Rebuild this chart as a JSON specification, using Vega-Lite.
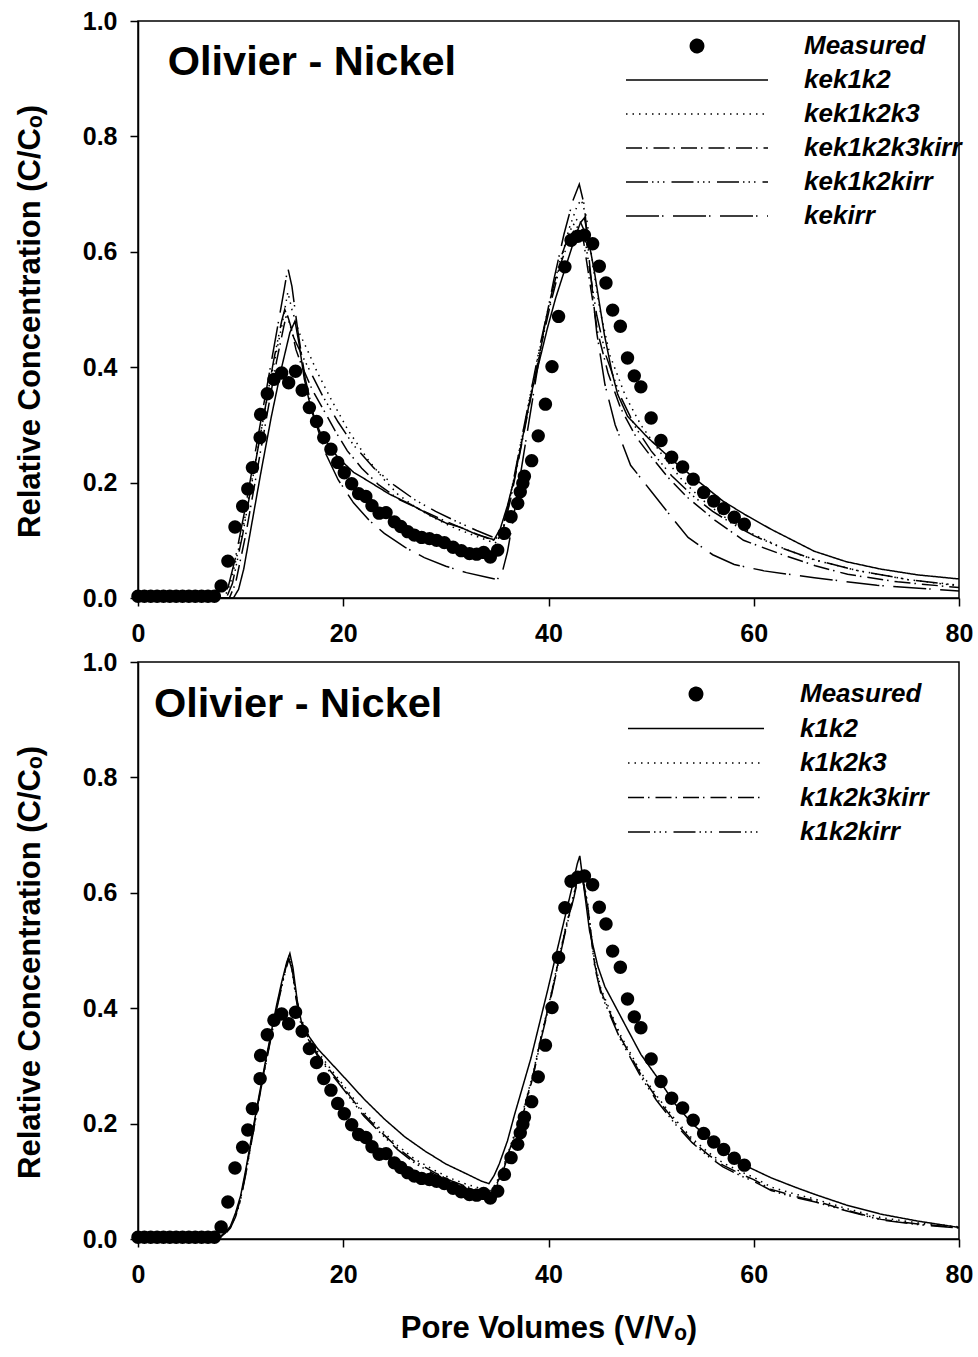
{
  "$schema": "https://vega.github.io/schema/vega-lite/v6.json",
  "padding": {"left": 13, "top": 8, "right": 12, "bottom": 10},
  "background": "white",
  "config": {
    "font": "Liberation Sans",
    "view": {"stroke": "black", "strokeWidth": 1.5},
    "axis": {
      "labelFont": "Liberation Sans", "labelFontSize": 25, "labelFontWeight": "bold", "labelColor": "black",
      "titleFont": "Liberation Sans", "titleFontSize": 31, "titleFontWeight": "bold", "titleColor": "black",
      "domainColor": "black", "domainWidth": 1.5, "tickColor": "black", "tickWidth": 1.5, "tickSize": 8,
      "grid": false, "labelFlush": false, "labelOverlap": false
    },
    "axisX": {"labelPadding": 15, "titlePadding": 26},
    "axisY": {"labelPadding": 13, "titlePadding": 36, "titleY": 300}
  },
  "resolve": {"scale": {"shape": "independent", "strokeDash": "independent"}, "legend": {"shape": "independent", "strokeDash": "independent"}},
  "datasets": {
    "measured": [
      {"series":"Measured","x":0,"y":0.003},{"series":"Measured","x":0.62,"y":0.003},{"series":"Measured","x":1.24,"y":0.003},{"series":"Measured","x":1.86,"y":0.003},{"series":"Measured","x":2.48,"y":0.003},{"series":"Measured","x":3.1,"y":0.003},{"series":"Measured","x":3.72,"y":0.003},{"series":"Measured","x":4.34,"y":0.003},{"series":"Measured","x":4.96,"y":0.003},{"series":"Measured","x":5.58,"y":0.003},{"series":"Measured","x":6.2,"y":0.003},{"series":"Measured","x":6.82,"y":0.003},{"series":"Measured","x":7.44,"y":0.003},
      {"series":"Measured","x":8.1,"y":0.021},{"series":"Measured","x":8.76,"y":0.064},{"series":"Measured","x":9.45,"y":0.123},{"series":"Measured","x":10.2,"y":0.159},{"series":"Measured","x":10.7,"y":0.189},{"series":"Measured","x":11.15,"y":0.226},{"series":"Measured","x":11.9,"y":0.278},{"series":"Measured","x":11.95,"y":0.318},{"series":"Measured","x":12.6,"y":0.354},{"series":"Measured","x":13.25,"y":0.379},{"series":"Measured","x":14.0,"y":0.39},{"series":"Measured","x":14.68,"y":0.373},{"series":"Measured","x":15.35,"y":0.393},{"series":"Measured","x":16.0,"y":0.36},{"series":"Measured","x":16.7,"y":0.33},{"series":"Measured","x":17.4,"y":0.306},{"series":"Measured","x":18.1,"y":0.278},{"series":"Measured","x":18.8,"y":0.258},{"series":"Measured","x":19.46,"y":0.235},{"series":"Measured","x":20.1,"y":0.217},{"series":"Measured","x":20.82,"y":0.198},{"series":"Measured","x":21.5,"y":0.181},{"series":"Measured","x":22.2,"y":0.176},{"series":"Measured","x":22.8,"y":0.16},{"series":"Measured","x":23.5,"y":0.147},{"series":"Measured","x":24.17,"y":0.148},{"series":"Measured","x":24.98,"y":0.132},{"series":"Measured","x":25.6,"y":0.124},{"series":"Measured","x":26.28,"y":0.115},{"series":"Measured","x":26.93,"y":0.109},{"series":"Measured","x":27.64,"y":0.105},{"series":"Measured","x":28.4,"y":0.103},{"series":"Measured","x":29.1,"y":0.1},{"series":"Measured","x":29.85,"y":0.096},{"series":"Measured","x":30.7,"y":0.088},{"series":"Measured","x":31.5,"y":0.082},{"series":"Measured","x":32.3,"y":0.077},{"series":"Measured","x":33.0,"y":0.076},{"series":"Measured","x":33.68,"y":0.079},{"series":"Measured","x":34.33,"y":0.071},{"series":"Measured","x":35.05,"y":0.083},{"series":"Measured","x":35.7,"y":0.112},{"series":"Measured","x":36.35,"y":0.141},{"series":"Measured","x":37.0,"y":0.164},{"series":"Measured","x":37.25,"y":0.184},{"series":"Measured","x":37.5,"y":0.199},{"series":"Measured","x":37.65,"y":0.211},{"series":"Measured","x":38.36,"y":0.238},{"series":"Measured","x":39.0,"y":0.281},{"series":"Measured","x":39.7,"y":0.336},{"series":"Measured","x":40.34,"y":0.401},{"series":"Measured","x":40.98,"y":0.488},{"series":"Measured","x":41.6,"y":0.574},{"series":"Measured","x":42.2,"y":0.62},{"series":"Measured","x":42.85,"y":0.627},{"series":"Measured","x":43.5,"y":0.629},{"series":"Measured","x":44.3,"y":0.614},{"series":"Measured","x":44.95,"y":0.575},{"series":"Measured","x":45.6,"y":0.546},{"series":"Measured","x":46.25,"y":0.499},{"series":"Measured","x":47.0,"y":0.471},{"series":"Measured","x":47.7,"y":0.416},{"series":"Measured","x":48.36,"y":0.385},{"series":"Measured","x":49.0,"y":0.366},{"series":"Measured","x":50.0,"y":0.312},{"series":"Measured","x":50.96,"y":0.273},{"series":"Measured","x":52.0,"y":0.244},{"series":"Measured","x":53.07,"y":0.227},{"series":"Measured","x":54.1,"y":0.206},{"series":"Measured","x":55.12,"y":0.183},{"series":"Measured","x":56.1,"y":0.168},{"series":"Measured","x":57.07,"y":0.155},{"series":"Measured","x":58.1,"y":0.14},{"series":"Measured","x":59.08,"y":0.128}
    ],
    "top": [
      {"series":"kek1k2","x":0,"y":0},{"series":"kek1k2","x":9.3,"y":0},{"series":"kek1k2","x":9.8,"y":0.015},{"series":"kek1k2","x":10.3,"y":0.05},{"series":"kek1k2","x":11,"y":0.12},{"series":"kek1k2","x":12,"y":0.22},{"series":"kek1k2","x":13,"y":0.315},{"series":"kek1k2","x":14,"y":0.4},{"series":"kek1k2","x":14.8,"y":0.46},{"series":"kek1k2","x":15.3,"y":0.48},{"series":"kek1k2","x":15.7,"y":0.44},{"series":"kek1k2","x":16.2,"y":0.38},{"series":"kek1k2","x":16.9,"y":0.324},{"series":"kek1k2","x":17.8,"y":0.285},{"series":"kek1k2","x":19.5,"y":0.243},{"series":"kek1k2","x":21,"y":0.218},{"series":"kek1k2","x":22.4,"y":0.203},{"series":"kek1k2","x":24.5,"y":0.18},{"series":"kek1k2","x":26.6,"y":0.162},{"series":"kek1k2","x":28.6,"y":0.142},{"series":"kek1k2","x":30,"y":0.13},{"series":"kek1k2","x":31.5,"y":0.122},{"series":"kek1k2","x":33,"y":0.11},{"series":"kek1k2","x":34.7,"y":0.101},{"series":"kek1k2","x":35.3,"y":0.12},{"series":"kek1k2","x":36,"y":0.16},{"series":"kek1k2","x":36.7,"y":0.209},{"series":"kek1k2","x":37.5,"y":0.28},{"series":"kek1k2","x":38.3,"y":0.353},{"series":"kek1k2","x":39.1,"y":0.41},{"series":"kek1k2","x":39.9,"y":0.468},{"series":"kek1k2","x":40.7,"y":0.52},{"series":"kek1k2","x":41.55,"y":0.567},{"series":"kek1k2","x":42.5,"y":0.62},{"series":"kek1k2","x":43.1,"y":0.65},{"series":"kek1k2","x":43.5,"y":0.659},{"series":"kek1k2","x":43.9,"y":0.62},{"series":"kek1k2","x":44.46,"y":0.567},{"series":"kek1k2","x":45.44,"y":0.457},{"series":"kek1k2","x":46.2,"y":0.39},{"series":"kek1k2","x":46.74,"y":0.353},{"series":"kek1k2","x":47.7,"y":0.315},{"series":"kek1k2","x":49.67,"y":0.278},{"series":"kek1k2","x":52,"y":0.24},{"series":"kek1k2","x":54.54,"y":0.203},{"series":"kek1k2","x":57,"y":0.168},{"series":"kek1k2","x":59.1,"y":0.145},{"series":"kek1k2","x":61.7,"y":0.119},{"series":"kek1k2","x":65.9,"y":0.081},{"series":"kek1k2","x":69,"y":0.063},{"series":"kek1k2","x":72.4,"y":0.05},{"series":"kek1k2","x":76,"y":0.04},{"series":"kek1k2","x":80,"y":0.033},
      {"series":"kek1k2k3","x":0,"y":0},{"series":"kek1k2k3","x":8.4,"y":0},{"series":"kek1k2k3","x":9,"y":0.025},{"series":"kek1k2k3","x":10,"y":0.1},{"series":"kek1k2k3","x":11,"y":0.195},{"series":"kek1k2k3","x":12,"y":0.29},{"series":"kek1k2k3","x":13,"y":0.385},{"series":"kek1k2k3","x":14,"y":0.47},{"series":"kek1k2k3","x":14.6,"y":0.53},{"series":"kek1k2k3","x":15,"y":0.5},{"series":"kek1k2k3","x":15.7,"y":0.46},{"series":"kek1k2k3","x":16.5,"y":0.43},{"series":"kek1k2k3","x":17.5,"y":0.39},{"series":"kek1k2k3","x":18.8,"y":0.345},{"series":"kek1k2k3","x":20.5,"y":0.29},{"series":"kek1k2k3","x":22.4,"y":0.24},{"series":"kek1k2k3","x":24,"y":0.205},{"series":"kek1k2k3","x":25.3,"y":0.18},{"series":"kek1k2k3","x":27,"y":0.158},{"series":"kek1k2k3","x":28.5,"y":0.142},{"series":"kek1k2k3","x":30.5,"y":0.124},{"series":"kek1k2k3","x":32.5,"y":0.11},{"series":"kek1k2k3","x":34.8,"y":0.095},{"series":"kek1k2k3","x":35.4,"y":0.11},{"series":"kek1k2k3","x":36,"y":0.15},{"series":"kek1k2k3","x":37,"y":0.24},{"series":"kek1k2k3","x":38,"y":0.33},{"series":"kek1k2k3","x":39,"y":0.42},{"series":"kek1k2k3","x":40,"y":0.5},{"series":"kek1k2k3","x":41,"y":0.57},{"series":"kek1k2k3","x":42,"y":0.64},{"series":"kek1k2k3","x":42.8,"y":0.68},{"series":"kek1k2k3","x":43.2,"y":0.69},{"series":"kek1k2k3","x":43.7,"y":0.66},{"series":"kek1k2k3","x":44.3,"y":0.58},{"series":"kek1k2k3","x":45,"y":0.5},{"series":"kek1k2k3","x":46,"y":0.42},{"series":"kek1k2k3","x":47.5,"y":0.35},{"series":"kek1k2k3","x":49,"y":0.3},{"series":"kek1k2k3","x":51,"y":0.25},{"series":"kek1k2k3","x":53,"y":0.205},{"series":"kek1k2k3","x":55,"y":0.17},{"series":"kek1k2k3","x":57,"y":0.142},{"series":"kek1k2k3","x":60,"y":0.11},{"series":"kek1k2k3","x":63,"y":0.085},{"series":"kek1k2k3","x":65.9,"y":0.066},{"series":"kek1k2k3","x":70,"y":0.048},{"series":"kek1k2k3","x":75,"y":0.032},{"series":"kek1k2k3","x":80,"y":0.021},
      {"series":"kek1k2k3kirr","x":0,"y":0},{"series":"kek1k2k3kirr","x":8.9,"y":0},{"series":"kek1k2k3kirr","x":9.5,"y":0.025},{"series":"kek1k2k3kirr","x":10.5,"y":0.11},{"series":"kek1k2k3kirr","x":11.5,"y":0.21},{"series":"kek1k2k3kirr","x":12.5,"y":0.31},{"series":"kek1k2k3kirr","x":13.5,"y":0.41},{"series":"kek1k2k3kirr","x":14.2,"y":0.47},{"series":"kek1k2k3kirr","x":14.5,"y":0.494},{"series":"kek1k2k3kirr","x":14.9,"y":0.47},{"series":"kek1k2k3kirr","x":15.4,"y":0.43},{"series":"kek1k2k3kirr","x":15.9,"y":0.405},{"series":"kek1k2k3kirr","x":17,"y":0.36},{"series":"kek1k2k3kirr","x":18.15,"y":0.324},{"series":"kek1k2k3kirr","x":19.2,"y":0.29},{"series":"kek1k2k3kirr","x":20.4,"y":0.255},{"series":"kek1k2k3kirr","x":21.8,"y":0.225},{"series":"kek1k2k3kirr","x":23.4,"y":0.197},{"series":"kek1k2k3kirr","x":25.5,"y":0.17},{"series":"kek1k2k3kirr","x":27.9,"y":0.15},{"series":"kek1k2k3kirr","x":30,"y":0.133},{"series":"kek1k2k3kirr","x":32,"y":0.118},{"series":"kek1k2k3kirr","x":34,"y":0.104},{"series":"kek1k2k3kirr","x":35,"y":0.098},{"series":"kek1k2k3kirr","x":35.6,"y":0.12},{"series":"kek1k2k3kirr","x":36.3,"y":0.17},{"series":"kek1k2k3kirr","x":37.2,"y":0.25},{"series":"kek1k2k3kirr","x":38.2,"y":0.34},{"series":"kek1k2k3kirr","x":39.2,"y":0.43},{"series":"kek1k2k3kirr","x":40.2,"y":0.51},{"series":"kek1k2k3kirr","x":41.2,"y":0.58},{"series":"kek1k2k3kirr","x":42.2,"y":0.63},{"series":"kek1k2k3kirr","x":42.9,"y":0.645},{"series":"kek1k2k3kirr","x":43.4,"y":0.62},{"series":"kek1k2k3kirr","x":44,"y":0.55},{"series":"kek1k2k3kirr","x":44.8,"y":0.46},{"series":"kek1k2k3kirr","x":45.8,"y":0.39},{"series":"kek1k2k3kirr","x":47,"y":0.33},{"series":"kek1k2k3kirr","x":48.5,"y":0.28},{"series":"kek1k2k3kirr","x":50,"y":0.245},{"series":"kek1k2k3kirr","x":51.6,"y":0.21},{"series":"kek1k2k3kirr","x":53.5,"y":0.175},{"series":"kek1k2k3kirr","x":56.2,"y":0.135},{"series":"kek1k2k3kirr","x":59,"y":0.1},{"series":"kek1k2k3kirr","x":62.65,"y":0.076},{"series":"kek1k2k3kirr","x":66,"y":0.056},{"series":"kek1k2k3kirr","x":69.15,"y":0.041},{"series":"kek1k2k3kirr","x":74,"y":0.028},{"series":"kek1k2k3kirr","x":80,"y":0.018},
      {"series":"kek1k2kirr","x":0,"y":0},{"series":"kek1k2kirr","x":8.6,"y":0},{"series":"kek1k2kirr","x":9.2,"y":0.025},{"series":"kek1k2kirr","x":10.2,"y":0.11},{"series":"kek1k2kirr","x":11.2,"y":0.21},{"series":"kek1k2kirr","x":12.2,"y":0.31},{"series":"kek1k2kirr","x":13.2,"y":0.41},{"series":"kek1k2kirr","x":14,"y":0.48},{"series":"kek1k2kirr","x":14.3,"y":0.5},{"series":"kek1k2kirr","x":14.7,"y":0.48},{"series":"kek1k2kirr","x":15.2,"y":0.45},{"series":"kek1k2kirr","x":16,"y":0.42},{"series":"kek1k2kirr","x":17,"y":0.385},{"series":"kek1k2kirr","x":18,"y":0.35},{"series":"kek1k2kirr","x":19.5,"y":0.305},{"series":"kek1k2kirr","x":21,"y":0.265},{"series":"kek1k2kirr","x":23,"y":0.225},{"series":"kek1k2kirr","x":25,"y":0.195},{"series":"kek1k2kirr","x":27,"y":0.17},{"series":"kek1k2kirr","x":29,"y":0.15},{"series":"kek1k2kirr","x":31,"y":0.133},{"series":"kek1k2kirr","x":33,"y":0.117},{"series":"kek1k2kirr","x":34.9,"y":0.103},{"series":"kek1k2kirr","x":35.5,"y":0.12},{"series":"kek1k2kirr","x":36.2,"y":0.17},{"series":"kek1k2kirr","x":37.2,"y":0.26},{"series":"kek1k2kirr","x":38.2,"y":0.35},{"series":"kek1k2kirr","x":39.2,"y":0.44},{"series":"kek1k2kirr","x":40.2,"y":0.52},{"series":"kek1k2kirr","x":41.2,"y":0.59},{"series":"kek1k2kirr","x":42.2,"y":0.64},{"series":"kek1k2kirr","x":42.9,"y":0.66},{"series":"kek1k2kirr","x":43.4,"y":0.64},{"series":"kek1k2kirr","x":44,"y":0.57},{"series":"kek1k2kirr","x":44.7,"y":0.49},{"series":"kek1k2kirr","x":45.6,"y":0.42},{"series":"kek1k2kirr","x":47,"y":0.35},{"series":"kek1k2kirr","x":48.5,"y":0.295},{"series":"kek1k2kirr","x":50,"y":0.255},{"series":"kek1k2kirr","x":52,"y":0.212},{"series":"kek1k2kirr","x":54,"y":0.178},{"series":"kek1k2kirr","x":56,"y":0.15},{"series":"kek1k2kirr","x":58,"y":0.128},{"series":"kek1k2kirr","x":60,"y":0.108},{"series":"kek1k2kirr","x":63,"y":0.085},{"series":"kek1k2kirr","x":66,"y":0.066},{"series":"kek1k2kirr","x":70,"y":0.048},{"series":"kek1k2kirr","x":75,"y":0.032},{"series":"kek1k2kirr","x":80,"y":0.022},
      {"series":"kekirr","x":0,"y":0},{"series":"kekirr","x":8.2,"y":0},{"series":"kekirr","x":8.8,"y":0.02},{"series":"kekirr","x":9.5,"y":0.07},{"series":"kekirr","x":10.5,"y":0.16},{"series":"kekirr","x":11.5,"y":0.26},{"series":"kekirr","x":12.5,"y":0.36},{"series":"kekirr","x":13.5,"y":0.46},{"series":"kekirr","x":14.2,"y":0.53},{"series":"kekirr","x":14.6,"y":0.572},{"series":"kekirr","x":15,"y":0.54},{"series":"kekirr","x":15.6,"y":0.46},{"series":"kekirr","x":16.3,"y":0.38},{"series":"kekirr","x":17.2,"y":0.31},{"series":"kekirr","x":18.3,"y":0.25},{"series":"kekirr","x":19.5,"y":0.205},{"series":"kekirr","x":21,"y":0.165},{"series":"kekirr","x":22.5,"y":0.135},{"series":"kekirr","x":24,"y":0.112},{"series":"kekirr","x":26,"y":0.088},{"series":"kekirr","x":27.9,"y":0.07},{"series":"kekirr","x":30,"y":0.055},{"series":"kekirr","x":32,"y":0.044},{"series":"kekirr","x":34,"y":0.036},{"series":"kekirr","x":35,"y":0.032},{"series":"kekirr","x":35.5,"y":0.045},{"series":"kekirr","x":36,"y":0.08},{"series":"kekirr","x":36.5,"y":0.13},{"series":"kekirr","x":37.5,"y":0.24},{"series":"kekirr","x":38.5,"y":0.35},{"series":"kekirr","x":39.5,"y":0.46},{"series":"kekirr","x":40.5,"y":0.55},{"series":"kekirr","x":41.5,"y":0.63},{"series":"kekirr","x":42.4,"y":0.69},{"series":"kekirr","x":43,"y":0.717},{"series":"kekirr","x":43.5,"y":0.68},{"series":"kekirr","x":44,"y":0.58},{"series":"kekirr","x":44.7,"y":0.46},{"series":"kekirr","x":45.5,"y":0.37},{"series":"kekirr","x":46.5,"y":0.3},{"series":"kekirr","x":48,"y":0.23},{"series":"kekirr","x":50,"y":0.185},{"series":"kekirr","x":52,"y":0.14},{"series":"kekirr","x":53.6,"y":0.105},{"series":"kekirr","x":56,"y":0.075},{"series":"kekirr","x":58.1,"y":0.058},{"series":"kekirr","x":61,"y":0.047},{"series":"kekirr","x":65.9,"y":0.035},{"series":"kekirr","x":72,"y":0.022},{"series":"kekirr","x":80,"y":0.012}
    ],
    "bottom": [
      {"series":"k1k2","x":0,"y":0},{"series":"k1k2","x":7.5,"y":0},{"series":"k1k2","x":8,"y":0.004},{"series":"k1k2","x":8.5,"y":0.012},{"series":"k1k2","x":9,"y":0.022},{"series":"k1k2","x":9.5,"y":0.045},{"series":"k1k2","x":10,"y":0.075},{"series":"k1k2","x":10.5,"y":0.12},{"series":"k1k2","x":11,"y":0.17},{"series":"k1k2","x":11.5,"y":0.22},{"series":"k1k2","x":12,"y":0.268},{"series":"k1k2","x":12.5,"y":0.315},{"series":"k1k2","x":13,"y":0.36},{"series":"k1k2","x":13.5,"y":0.405},{"series":"k1k2","x":14,"y":0.445},{"series":"k1k2","x":14.5,"y":0.48},{"series":"k1k2","x":14.8,"y":0.495},{"series":"k1k2","x":15.1,"y":0.47},{"series":"k1k2","x":15.5,"y":0.415},{"series":"k1k2","x":15.9,"y":0.378},{"series":"k1k2","x":16.5,"y":0.355},{"series":"k1k2","x":17.5,"y":0.33},{"series":"k1k2","x":18.8,"y":0.305},{"series":"k1k2","x":20,"y":0.282},{"series":"k1k2","x":22,"y":0.243},{"series":"k1k2","x":24,"y":0.208},{"series":"k1k2","x":26,"y":0.177},{"series":"k1k2","x":28,"y":0.152},{"series":"k1k2","x":30,"y":0.13},{"series":"k1k2","x":32,"y":0.113},{"series":"k1k2","x":33.5,"y":0.1},{"series":"k1k2","x":34.2,"y":0.096},{"series":"k1k2","x":34.7,"y":0.11},{"series":"k1k2","x":35.2,"y":0.13},{"series":"k1k2","x":36,"y":0.17},{"series":"k1k2","x":36.7,"y":0.216},{"series":"k1k2","x":37.5,"y":0.265},{"series":"k1k2","x":38.3,"y":0.314},{"series":"k1k2","x":39.1,"y":0.372},{"series":"k1k2","x":39.9,"y":0.43},{"series":"k1k2","x":40.7,"y":0.49},{"series":"k1k2","x":41.5,"y":0.55},{"series":"k1k2","x":42.3,"y":0.61},{"series":"k1k2","x":42.8,"y":0.65},{"series":"k1k2","x":43.05,"y":0.664},{"series":"k1k2","x":43.3,"y":0.63},{"series":"k1k2","x":44,"y":0.534},{"series":"k1k2","x":44.8,"y":0.473},{"series":"k1k2","x":45.5,"y":0.437},{"series":"k1k2","x":46.4,"y":0.407},{"series":"k1k2","x":47.5,"y":0.37},{"series":"k1k2","x":49,"y":0.32},{"series":"k1k2","x":50.6,"y":0.28},{"series":"k1k2","x":52.3,"y":0.235},{"series":"k1k2","x":54,"y":0.2},{"series":"k1k2","x":55.2,"y":0.181},{"series":"k1k2","x":57,"y":0.153},{"series":"k1k2","x":59.2,"y":0.127},{"series":"k1k2","x":61.7,"y":0.106},{"series":"k1k2","x":64,"y":0.09},{"series":"k1k2","x":66,"y":0.077},{"series":"k1k2","x":69,"y":0.059},{"series":"k1k2","x":72.4,"y":0.043},{"series":"k1k2","x":76,"y":0.031},{"series":"k1k2","x":80,"y":0.02},
      {"series":"k1k2k3","x":0,"y":0},{"series":"k1k2k3","x":7.6,"y":0},{"series":"k1k2k3","x":8,"y":0.003},{"series":"k1k2k3","x":8.5,"y":0.01},{"series":"k1k2k3","x":9,"y":0.02},{"series":"k1k2k3","x":9.5,"y":0.04},{"series":"k1k2k3","x":10,"y":0.07},{"series":"k1k2k3","x":10.5,"y":0.115},{"series":"k1k2k3","x":11,"y":0.165},{"series":"k1k2k3","x":11.5,"y":0.215},{"series":"k1k2k3","x":12,"y":0.265},{"series":"k1k2k3","x":12.5,"y":0.31},{"series":"k1k2k3","x":13,"y":0.355},{"series":"k1k2k3","x":13.5,"y":0.4},{"series":"k1k2k3","x":14,"y":0.44},{"series":"k1k2k3","x":14.4,"y":0.47},{"series":"k1k2k3","x":14.7,"y":0.49},{"series":"k1k2k3","x":15,"y":0.472},{"series":"k1k2k3","x":15.4,"y":0.424},{"series":"k1k2k3","x":15.8,"y":0.385},{"series":"k1k2k3","x":16.5,"y":0.357},{"series":"k1k2k3","x":17.5,"y":0.325},{"series":"k1k2k3","x":18.8,"y":0.294},{"series":"k1k2k3","x":20,"y":0.267},{"series":"k1k2k3","x":22,"y":0.22},{"series":"k1k2k3","x":24,"y":0.184},{"series":"k1k2k3","x":25.3,"y":0.162},{"series":"k1k2k3","x":27,"y":0.138},{"series":"k1k2k3","x":28.9,"y":0.119},{"series":"k1k2k3","x":30.5,"y":0.105},{"series":"k1k2k3","x":32,"y":0.095},{"series":"k1k2k3","x":33.5,"y":0.087},{"series":"k1k2k3","x":34.3,"y":0.084},{"series":"k1k2k3","x":34.8,"y":0.094},{"series":"k1k2k3","x":35.4,"y":0.115},{"series":"k1k2k3","x":36.5,"y":0.172},{"series":"k1k2k3","x":37.65,"y":0.23},{"series":"k1k2k3","x":38.5,"y":0.287},{"series":"k1k2k3","x":39.27,"y":0.351},{"series":"k1k2k3","x":40.1,"y":0.412},{"series":"k1k2k3","x":40.9,"y":0.478},{"series":"k1k2k3","x":41.7,"y":0.542},{"series":"k1k2k3","x":42.5,"y":0.6},{"series":"k1k2k3","x":42.9,"y":0.632},{"series":"k1k2k3","x":43.2,"y":0.64},{"series":"k1k2k3","x":43.5,"y":0.613},{"series":"k1k2k3","x":43.8,"y":0.583},{"series":"k1k2k3","x":44.5,"y":0.48},{"series":"k1k2k3","x":45.1,"y":0.434},{"series":"k1k2k3","x":45.8,"y":0.404},{"series":"k1k2k3","x":47,"y":0.354},{"series":"k1k2k3","x":49,"y":0.289},{"series":"k1k2k3","x":50.5,"y":0.249},{"series":"k1k2k3","x":52.3,"y":0.208},{"series":"k1k2k3","x":54,"y":0.174},{"series":"k1k2k3","x":55.5,"y":0.151},{"series":"k1k2k3","x":57,"y":0.132},{"series":"k1k2k3","x":58.8,"y":0.116},{"series":"k1k2k3","x":60,"y":0.107},{"series":"k1k2k3","x":61.7,"y":0.09},{"series":"k1k2k3","x":64,"y":0.078},{"series":"k1k2k3","x":66,"y":0.069},{"series":"k1k2k3","x":69,"y":0.053},{"series":"k1k2k3","x":72.4,"y":0.037},{"series":"k1k2k3","x":76,"y":0.028},{"series":"k1k2k3","x":80,"y":0.021},
      {"series":"k1k2k3kirr","x":0,"y":0},{"series":"k1k2k3kirr","x":7.6,"y":0},{"series":"k1k2k3kirr","x":8,"y":0.003},{"series":"k1k2k3kirr","x":8.5,"y":0.01},{"series":"k1k2k3kirr","x":9,"y":0.02},{"series":"k1k2k3kirr","x":9.5,"y":0.04},{"series":"k1k2k3kirr","x":10,"y":0.07},{"series":"k1k2k3kirr","x":10.5,"y":0.115},{"series":"k1k2k3kirr","x":11,"y":0.165},{"series":"k1k2k3kirr","x":11.5,"y":0.215},{"series":"k1k2k3kirr","x":12,"y":0.265},{"series":"k1k2k3kirr","x":12.5,"y":0.31},{"series":"k1k2k3kirr","x":13,"y":0.355},{"series":"k1k2k3kirr","x":13.5,"y":0.4},{"series":"k1k2k3kirr","x":14,"y":0.44},{"series":"k1k2k3kirr","x":14.4,"y":0.47},{"series":"k1k2k3kirr","x":14.7,"y":0.488},{"series":"k1k2k3kirr","x":15,"y":0.47},{"series":"k1k2k3kirr","x":15.4,"y":0.42},{"series":"k1k2k3kirr","x":15.8,"y":0.38},{"series":"k1k2k3kirr","x":16.5,"y":0.352},{"series":"k1k2k3kirr","x":17.5,"y":0.32},{"series":"k1k2k3kirr","x":18.8,"y":0.29},{"series":"k1k2k3kirr","x":20,"y":0.263},{"series":"k1k2k3kirr","x":22,"y":0.216},{"series":"k1k2k3kirr","x":24,"y":0.18},{"series":"k1k2k3kirr","x":25.3,"y":0.158},{"series":"k1k2k3kirr","x":27,"y":0.134},{"series":"k1k2k3kirr","x":28.9,"y":0.115},{"series":"k1k2k3kirr","x":30.5,"y":0.101},{"series":"k1k2k3kirr","x":32,"y":0.091},{"series":"k1k2k3kirr","x":33.5,"y":0.083},{"series":"k1k2k3kirr","x":34.3,"y":0.08},{"series":"k1k2k3kirr","x":34.8,"y":0.09},{"series":"k1k2k3kirr","x":35.4,"y":0.112},{"series":"k1k2k3kirr","x":36.5,"y":0.17},{"series":"k1k2k3kirr","x":37.65,"y":0.228},{"series":"k1k2k3kirr","x":38.5,"y":0.285},{"series":"k1k2k3kirr","x":39.27,"y":0.349},{"series":"k1k2k3kirr","x":40.1,"y":0.41},{"series":"k1k2k3kirr","x":40.9,"y":0.476},{"series":"k1k2k3kirr","x":41.7,"y":0.54},{"series":"k1k2k3kirr","x":42.5,"y":0.597},{"series":"k1k2k3kirr","x":42.9,"y":0.63},{"series":"k1k2k3kirr","x":43.2,"y":0.638},{"series":"k1k2k3kirr","x":43.5,"y":0.61},{"series":"k1k2k3kirr","x":43.8,"y":0.58},{"series":"k1k2k3kirr","x":44.5,"y":0.476},{"series":"k1k2k3kirr","x":45.1,"y":0.43},{"series":"k1k2k3kirr","x":45.8,"y":0.4},{"series":"k1k2k3kirr","x":47,"y":0.35},{"series":"k1k2k3kirr","x":49,"y":0.285},{"series":"k1k2k3kirr","x":50.5,"y":0.245},{"series":"k1k2k3kirr","x":52.3,"y":0.204},{"series":"k1k2k3kirr","x":54,"y":0.17},{"series":"k1k2k3kirr","x":55.5,"y":0.147},{"series":"k1k2k3kirr","x":57,"y":0.128},{"series":"k1k2k3kirr","x":58.8,"y":0.112},{"series":"k1k2k3kirr","x":60,"y":0.103},{"series":"k1k2k3kirr","x":61.7,"y":0.086},{"series":"k1k2k3kirr","x":64,"y":0.074},{"series":"k1k2k3kirr","x":66,"y":0.066},{"series":"k1k2k3kirr","x":69,"y":0.05},{"series":"k1k2k3kirr","x":72.4,"y":0.034},{"series":"k1k2k3kirr","x":76,"y":0.026},{"series":"k1k2k3kirr","x":80,"y":0.02},
      {"series":"k1k2kirr","x":0,"y":0},{"series":"k1k2kirr","x":7.7,"y":0},{"series":"k1k2kirr","x":8,"y":0.002},{"series":"k1k2kirr","x":8.5,"y":0.009},{"series":"k1k2kirr","x":9,"y":0.019},{"series":"k1k2kirr","x":9.5,"y":0.038},{"series":"k1k2kirr","x":10,"y":0.068},{"series":"k1k2kirr","x":10.5,"y":0.112},{"series":"k1k2kirr","x":11,"y":0.162},{"series":"k1k2kirr","x":11.5,"y":0.212},{"series":"k1k2kirr","x":12,"y":0.262},{"series":"k1k2kirr","x":12.5,"y":0.307},{"series":"k1k2kirr","x":13,"y":0.352},{"series":"k1k2kirr","x":13.5,"y":0.397},{"series":"k1k2kirr","x":14,"y":0.437},{"series":"k1k2kirr","x":14.4,"y":0.467},{"series":"k1k2kirr","x":14.7,"y":0.485},{"series":"k1k2kirr","x":15,"y":0.467},{"series":"k1k2kirr","x":15.4,"y":0.417},{"series":"k1k2kirr","x":15.8,"y":0.377},{"series":"k1k2kirr","x":16.5,"y":0.349},{"series":"k1k2kirr","x":17.5,"y":0.317},{"series":"k1k2kirr","x":18.8,"y":0.287},{"series":"k1k2kirr","x":20,"y":0.26},{"series":"k1k2kirr","x":22,"y":0.213},{"series":"k1k2kirr","x":24,"y":0.177},{"series":"k1k2kirr","x":25.3,"y":0.155},{"series":"k1k2kirr","x":27,"y":0.131},{"series":"k1k2kirr","x":28.9,"y":0.112},{"series":"k1k2kirr","x":30.5,"y":0.098},{"series":"k1k2kirr","x":32,"y":0.088},{"series":"k1k2kirr","x":33.5,"y":0.08},{"series":"k1k2kirr","x":34.3,"y":0.077},{"series":"k1k2kirr","x":34.8,"y":0.087},{"series":"k1k2kirr","x":35.4,"y":0.109},{"series":"k1k2kirr","x":36.5,"y":0.167},{"series":"k1k2kirr","x":37.65,"y":0.225},{"series":"k1k2kirr","x":38.5,"y":0.282},{"series":"k1k2kirr","x":39.27,"y":0.346},{"series":"k1k2kirr","x":40.1,"y":0.407},{"series":"k1k2kirr","x":40.9,"y":0.473},{"series":"k1k2kirr","x":41.7,"y":0.537},{"series":"k1k2kirr","x":42.5,"y":0.594},{"series":"k1k2kirr","x":42.9,"y":0.627},{"series":"k1k2kirr","x":43.2,"y":0.634},{"series":"k1k2kirr","x":43.5,"y":0.606},{"series":"k1k2kirr","x":43.8,"y":0.576},{"series":"k1k2kirr","x":44.5,"y":0.472},{"series":"k1k2kirr","x":45.1,"y":0.426},{"series":"k1k2kirr","x":45.8,"y":0.396},{"series":"k1k2kirr","x":47,"y":0.346},{"series":"k1k2kirr","x":49,"y":0.281},{"series":"k1k2kirr","x":50.5,"y":0.241},{"series":"k1k2kirr","x":52.3,"y":0.2},{"series":"k1k2kirr","x":54,"y":0.167},{"series":"k1k2kirr","x":55.5,"y":0.144},{"series":"k1k2kirr","x":57,"y":0.125},{"series":"k1k2kirr","x":58.8,"y":0.109},{"series":"k1k2kirr","x":60,"y":0.1},{"series":"k1k2kirr","x":61.7,"y":0.084},{"series":"k1k2kirr","x":64,"y":0.072},{"series":"k1k2kirr","x":66,"y":0.064},{"series":"k1k2kirr","x":69,"y":0.049},{"series":"k1k2kirr","x":72.4,"y":0.033},{"series":"k1k2kirr","x":76,"y":0.025},{"series":"k1k2kirr","x":80,"y":0.019}
    ]
  },
  "vconcat": [
    {
      "width": 821, "height": 577,
      "layer": [
        {
          "data": {"name": "top"},
          "mark": {"type": "line", "color": "black", "strokeWidth": 1.5},
          "encoding": {
            "x": {"field": "x", "type": "quantitative", "scale": {"domain": [0, 80], "nice": false}, "axis": {"values": [0, 20, 40, 60, 80], "title": null}},
            "y": {"field": "y", "type": "quantitative", "scale": {"domain": [0, 1], "nice": false}, "axis": {"values": [0, 0.2, 0.4, 0.6, 0.8, 1.0], "format": ".1f", "title": "Relative Concentration (C/Cₒ)"}},
            "strokeDash": {
              "field": "series", "type": "nominal",
              "scale": {"domain": ["Measured", "kek1k2", "kek1k2k3", "kek1k2k3kirr", "kek1k2kirr", "kekirr"],
                        "range": [[1, 0], [1, 0], [1.5, 5], [16, 4, 1.5, 6], [22, 4, 1.5, 4, 1.5, 4, 1.5, 7], [33, 3, 1.5, 9.5]]},
              "legend": {"orient": "none", "legendX": 487, "legendY": 12, "title": null, "padding": 0, "symbolSize": 20164, "symbolStrokeWidth": 1.5, "symbolOffset": 0, "symbolFillColor": "black", "symbolStrokeColor": "black", "symbolOpacity": 1, "labelFont": "Liberation Sans", "labelFontSize": 26, "labelFontWeight": "bold", "labelFontStyle": "italic", "labelColor": "black", "labelOffset": 35, "clipHeight": 26, "rowPadding": 8,
                         "encode": {"symbols": {"update": {"stroke": {"value": "black"}, "fill": {"value": "black"}, "opacity": {"value": 1}}}}}
            }
          }
        },
        {
          "data": {"name": "measured"},
          "mark": {"type": "point", "filled": true, "color": "black", "opacity": 1, "size": 20164},
          "encoding": {
            "x": {"field": "x", "type": "quantitative"},
            "y": {"field": "y", "type": "quantitative"},
            "shape": {
              "field": "series", "type": "nominal",
              "scale": {"domain": ["Measured", "kek1k2", "kek1k2k3", "kek1k2k3kirr", "kek1k2kirr", "kekirr"],
                        "range": ["M-0.094,0A0.094,0.094,0,1,0,0.094,0A0.094,0.094,0,1,0,-0.094,0Z", "stroke", "stroke", "stroke", "stroke", "stroke"]},
              "legend": {"orient": "none", "legendX": 487, "legendY": 12, "title": null, "padding": 0, "symbolSize": 20164, "symbolStrokeWidth": 1.5, "symbolOffset": 0, "symbolFillColor": "black", "symbolStrokeColor": "black", "symbolOpacity": 1, "labelFont": "Liberation Sans", "labelFontSize": 26, "labelFontWeight": "bold", "labelFontStyle": "italic", "labelColor": "black", "labelOffset": 35, "clipHeight": 26, "rowPadding": 8,
                         "encode": {"symbols": {"update": {"stroke": {"value": "black"}, "fill": {"value": "black"}, "opacity": {"value": 1}}}}}
            }
          }
        },
        {
          "data": {"values": [{}]},
          "mark": {"type": "text", "align": "left", "baseline": "alphabetic", "fontSize": 41.5, "fontWeight": "bold", "font": "Liberation Sans", "color": "black"},
          "encoding": {
            "x": {"datum": 2.9, "type": "quantitative"},
            "y": {"datum": 0.907, "type": "quantitative"},
            "text": {"value": "Olivier - Nickel"}
          }
        }
      ]
    },
    {
      "width": 821, "height": 577,
      "layer": [
        {
          "data": {"name": "bottom"},
          "mark": {"type": "line", "color": "black", "strokeWidth": 1.5},
          "encoding": {
            "x": {"field": "x", "type": "quantitative", "scale": {"domain": [0, 80], "nice": false}, "axis": {"values": [0, 20, 40, 60, 80], "title": "Pore Volumes (V/Vₒ)"}},
            "y": {"field": "y", "type": "quantitative", "scale": {"domain": [0, 1], "nice": false}, "axis": {"values": [0, 0.2, 0.4, 0.6, 0.8, 1.0], "format": ".1f", "title": "Relative Concentration (C/Cₒ)"}},
            "strokeDash": {
              "field": "series", "type": "nominal",
              "scale": {"domain": ["Measured", "k1k2", "k1k2k3", "k1k2k3kirr", "k1k2kirr"],
                        "range": [[1, 0], [1, 0], [1.5, 5], [16, 4, 1.5, 6], [22, 4, 1.5, 4, 1.5, 4, 1.5, 7]]},
              "legend": {"orient": "none", "legendX": 489, "legendY": 19, "title": null, "padding": 0, "symbolSize": 18496, "symbolStrokeWidth": 1.5, "symbolOffset": 0, "symbolFillColor": "black", "symbolStrokeColor": "black", "symbolOpacity": 1, "labelFont": "Liberation Sans", "labelFontSize": 26, "labelFontWeight": "bold", "labelFontStyle": "italic", "labelColor": "black", "labelOffset": 35, "clipHeight": 26, "rowPadding": 8.5,
                         "encode": {"symbols": {"update": {"stroke": {"value": "black"}, "fill": {"value": "black"}, "opacity": {"value": 1}}}}}
            }
          }
        },
        {
          "data": {"name": "measured"},
          "mark": {"type": "point", "filled": true, "color": "black", "opacity": 1, "size": 18496},
          "encoding": {
            "x": {"field": "x", "type": "quantitative"},
            "y": {"field": "y", "type": "quantitative"},
            "shape": {
              "field": "series", "type": "nominal",
              "scale": {"domain": ["Measured", "k1k2", "k1k2k3", "k1k2k3kirr", "k1k2kirr"],
                        "range": ["M-0.0985,0A0.0985,0.0985,0,1,0,0.0985,0A0.0985,0.0985,0,1,0,-0.0985,0Z", "stroke", "stroke", "stroke", "stroke"]},
              "legend": {"orient": "none", "legendX": 489, "legendY": 19, "title": null, "padding": 0, "symbolSize": 18496, "symbolStrokeWidth": 1.5, "symbolOffset": 0, "symbolFillColor": "black", "symbolStrokeColor": "black", "symbolOpacity": 1, "labelFont": "Liberation Sans", "labelFontSize": 26, "labelFontWeight": "bold", "labelFontStyle": "italic", "labelColor": "black", "labelOffset": 35, "clipHeight": 26, "rowPadding": 8.5,
                         "encode": {"symbols": {"update": {"stroke": {"value": "black"}, "fill": {"value": "black"}, "opacity": {"value": 1}}}}}
            }
          }
        },
        {
          "data": {"values": [{}]},
          "mark": {"type": "text", "align": "left", "baseline": "alphabetic", "fontSize": 41.5, "fontWeight": "bold", "font": "Liberation Sans", "color": "black"},
          "encoding": {
            "x": {"datum": 1.56, "type": "quantitative"},
            "y": {"datum": 0.905, "type": "quantitative"},
            "text": {"value": "Olivier - Nickel"}
          }
        }
      ]
    }
  ],
  "spacing": 64,
  "bounds": "flush"
}
